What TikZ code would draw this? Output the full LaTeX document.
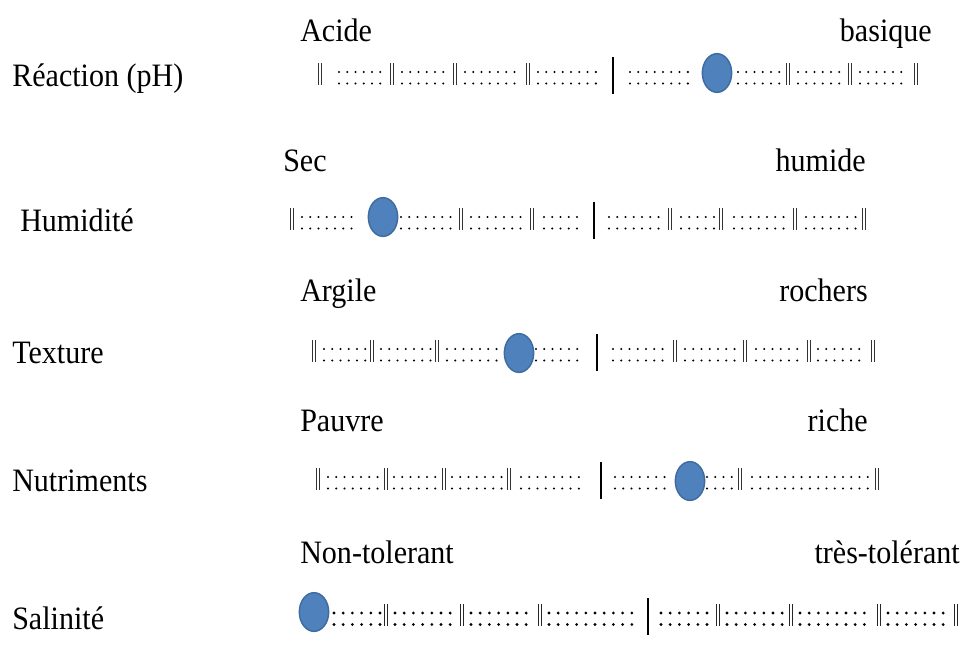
\documentclass[tikz,border=0pt]{standalone}
\usepackage{fontspec}
\setmainfont{Liberation Serif}
\newfontfamily\lblfont[FakeStretch=0.92]{Liberation Serif}
\usetikzlibrary{shapes.geometric}
\definecolor{knobfill}{HTML}{4F81BD}
\definecolor{knobline}{HTML}{3F6C9F}
\tikzset{
  lbl/.style={anchor=base west, inner sep=0pt, font=\lblfont\fontsize{24.5}{29}\selectfont},
  lblr/.style={anchor=base east, inner sep=0pt, font=\lblfont\fontsize{24.5}{29}\selectfont},
  colondots/.style={line width=1.7pt, line cap=round, dash pattern=on 0pt off 6.2pt},
  boldcolondots/.style={line width=2.3pt, line cap=round, dash pattern=on 0pt off 6.9pt},
  dblbar/.style={line width=0.65pt, black!80},
  bolddblbar/.style={line width=0.95pt, black!85},
  bigbar/.style={line width=1.7pt},
  boldbigbar/.style={line width=1.9pt},
  knob/.style={ellipse, fill=knobfill, draw=knobline, line width=1.1pt,
    minimum width=22pt, minimum height=29pt, inner sep=0pt}
}
% double bar at x, baseline y
\newcommand\dbl[3][dblbar]{%
  \draw[#1] ({#2-1.4},{#3-22}) -- ({#2-1.4},#3);
  \draw[#1] ({#2+1.4},{#3-22}) -- ({#2+1.4},#3);}
% run of colons from x1 to x2 at baseline y
\newcommand\colrun[4][colondots]{%
  \draw[#1] (#3,{#2-13}) -- (#4,{#2-13});
  \draw[#1] (#3,{#2-1.5}) -- (#4,{#2-1.5});}
\newcommand\midbar[3][bigbar]{\draw[#1] (#2,{#3-28}) -- (#2,{#3+9});}

\begin{document}
\begin{tikzpicture}[x=0.75pt,y=-0.75pt]
\useasboundingbox (0,0) rectangle (963,665);

% ---------- Row 1 : pH ----------
\node[lbl]  (acide)   at (300,41)  {Acide};
\node[lblr] (basique) at (932,41)  {basique};
\node[lbl]  (reac)    at (12,86)   {Réaction (pH)};
\dbl{320}{85}
\colrun{85}{339}{384}\dbl{392}{85}
\colrun{85}{402}{447}\dbl{455}{85}
\colrun{85}{465}{522}\dbl{528}{85}
\colrun{85}{538}{600}
\midbar{613}{85}
\colrun{85}{630}{690}
\colrun{85}{738}{782}\dbl{788}{85}
\colrun{85}{798}{843}\dbl{850}{85}
\colrun{85}{860}{908}\dbl{916}{85}
\node[knob] (k1) at (717,73) {};

% ---------- Row 2 : Humidite ----------
\node[lbl]  (sec)    at (283,171) {Sec};
\node[lblr] (humide) at (866,171) {humide};
\node[lbl]  (humid)  at (20,231)  {Humidité};
\dbl{292}{230}
\colrun{230}{302}{357}
\colrun{230}{401}{456}\dbl{461}{230}
\colrun{230}{471}{525}\dbl{532}{230}
\colrun{230}{544}{580}
\midbar{594}{230}
\colrun{230}{609}{664}\dbl{670}{230}
\colrun{230}{681}{716}\dbl{721}{230}
\colrun{230}{734}{788}\dbl{795}{230}
\colrun{230}{806}{856}\dbl{864}{230}
\node[knob] (k2) at (383,217) {};

% ---------- Row 3 : Texture ----------
\node[lbl]  (argile)  at (300,301) {Argile};
\node[lblr] (rochers) at (868,301) {rochers};
\node[lbl]  (texture) at (12,363)  {Texture};
\dbl{314}{362}
\colrun{362}{324}{367}\dbl{372}{362}
\colrun{362}{381}{431}\dbl{437}{362}
\colrun{362}{447}{497}
\colrun{362}{536}{583}
\midbar{597}{362}
\colrun{362}{613}{669}\dbl{675}{362}
\colrun{362}{685}{740}\dbl{745}{362}
\colrun{362}{756}{804}\dbl{809}{362}
\colrun{362}{818}{867}\dbl{873}{362}
\node[knob] (k3) at (519,353) {};

% ---------- Row 4 : Nutriments ----------
\node[lbl]  (pauvre) at (300,431) {Pauvre};
\node[lblr] (riche)  at (868,431) {riche};
\node[lbl]  (nutri)  at (12,491)  {Nutriments};
\dbl{318}{490}
\colrun{490}{328}{381}\dbl{386}{490}
\colrun{490}{394}{439}\dbl{444}{490}
\colrun{490}{452}{504}\dbl{509}{490}
\colrun{490}{521}{587}
\midbar{601}{490}
\colrun{490}{615}{666}
\colrun{490}{707}{734}\dbl{740}{490}
\colrun{490}{752}{870}\dbl{877}{490}
\node[knob] (k4) at (690,481) {};

% ---------- Row 5 : Salinite ----------
\node[lbl]  (nontol) at (300,563) {Non-tolerant};
\node[lblr] (trestol) at (960,563) {très-tolérant};
\node[lbl]  (salin)  at (12,629)  {Salinité};
\colrun[boldcolondots]{626}{334}{380}\dbl[bolddblbar]{386}{626}
\colrun[boldcolondots]{626}{395}{455}\dbl[bolddblbar]{462}{626}
\colrun[boldcolondots]{626}{471}{533}\dbl[bolddblbar]{540}{626}
\colrun[boldcolondots]{626}{549}{634}
\midbar[boldbigbar]{648}{626}
\colrun[boldcolondots]{626}{661}{712}\dbl[bolddblbar]{718}{626}
\colrun[boldcolondots]{626}{727}{785}\dbl[bolddblbar]{791}{626}
\colrun[boldcolondots]{626}{800}{872}\dbl[bolddblbar]{879}{626}
\colrun[boldcolondots]{626}{888}{950}\dbl[bolddblbar]{956}{626}
\node[knob] (k5) at (314,612) {};
\end{tikzpicture}
\end{document}
